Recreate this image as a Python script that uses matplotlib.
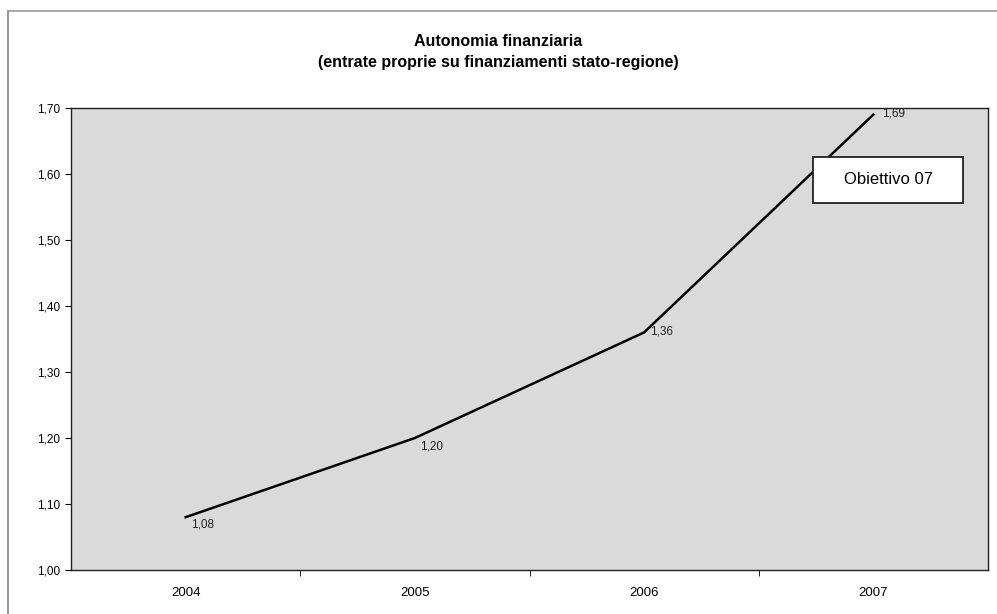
import matplotlib.pyplot as plt
from matplotlib.lines import Line2D
from matplotlib.patches import Rectangle

plt.rcParams['font.family'] = ['Liberation Sans', 'DejaVu Sans']

years = ["2004", "2005", "2006", "2007"]
values = [1.08, 1.20, 1.36, 1.69]
value_labels = ["1,08", "1,20", "1,36", "1,69"]
y_ticks = [1.00, 1.10, 1.20, 1.30, 1.40, 1.50, 1.60, 1.70]

fig = plt.figure(figsize=(9.97, 6.14), dpi=100)
fig.patch.set_facecolor("white")

# frame around the whole chart (left and top edges)
fig.add_artist(Line2D([8 / 997, 8 / 997], [0, 1 - 11 / 614], color="#888888", lw=1.2))
fig.add_artist(Line2D([8 / 997, 1], [1 - 11 / 614, 1 - 11 / 614], color="#999999", lw=1.2))

ax = fig.add_axes([71 / 997, 44 / 614, 917 / 997, 462 / 614])
ax.set_facecolor("#dadada")

x = list(range(len(years)))
ax.plot(x, values, color="black", lw=1.8, zorder=2)

offsets = [(4, -5), (4, -6), (4, 1), (6, 1)]
for xi, v, lab, (dx, dy) in zip(x, values, value_labels, offsets):
    ax.annotate(lab, (xi, v), xytext=(dx, dy), textcoords="offset points",
                fontsize=8.5, ha="left", va="center", color="#222222")

ax.set_xlim(-0.5, 3.5)
ax.set_ylim(1.0, 1.7)
ax.set_yticks(y_ticks)
ax.set_yticklabels([f"{t:.2f}".replace(".", ",") for t in y_ticks], fontsize=8.5)
ax.set_xticks(x)
ax.set_xticklabels(years, fontsize=9.5)
ax.tick_params(axis="x", length=0, pad=12)
ax.set_xticks([0.5, 1.5, 2.5], minor=True)
ax.tick_params(axis="x", which="minor", length=4, direction="out")
ax.tick_params(axis="y", length=4, direction="out", pad=4)
for s in ax.spines.values():
    s.set_color("#222222")
    s.set_linewidth(1.0)

# target label box
ax.add_patch(Rectangle((0.809, 0.794), 0.164, 0.100, transform=ax.transAxes,
                       fc="white", ec="#222222", lw=1.3, zorder=3))
ax.text(0.891, 0.845, "Obiettivo 07", transform=ax.transAxes, fontsize=12,
        ha="center", va="center", zorder=4)

fig.text(0.5, 1 - 42 / 614, "Autonomia finanziaria", ha="center", va="center",
         fontsize=11.5, fontweight="bold")
fig.text(0.5, 1 - 62 / 614, "(entrate proprie su finanziamenti stato-regione)",
         ha="center", va="center", fontsize=11.5, fontweight="bold")

fig.savefig("out.png", dpi=100)
